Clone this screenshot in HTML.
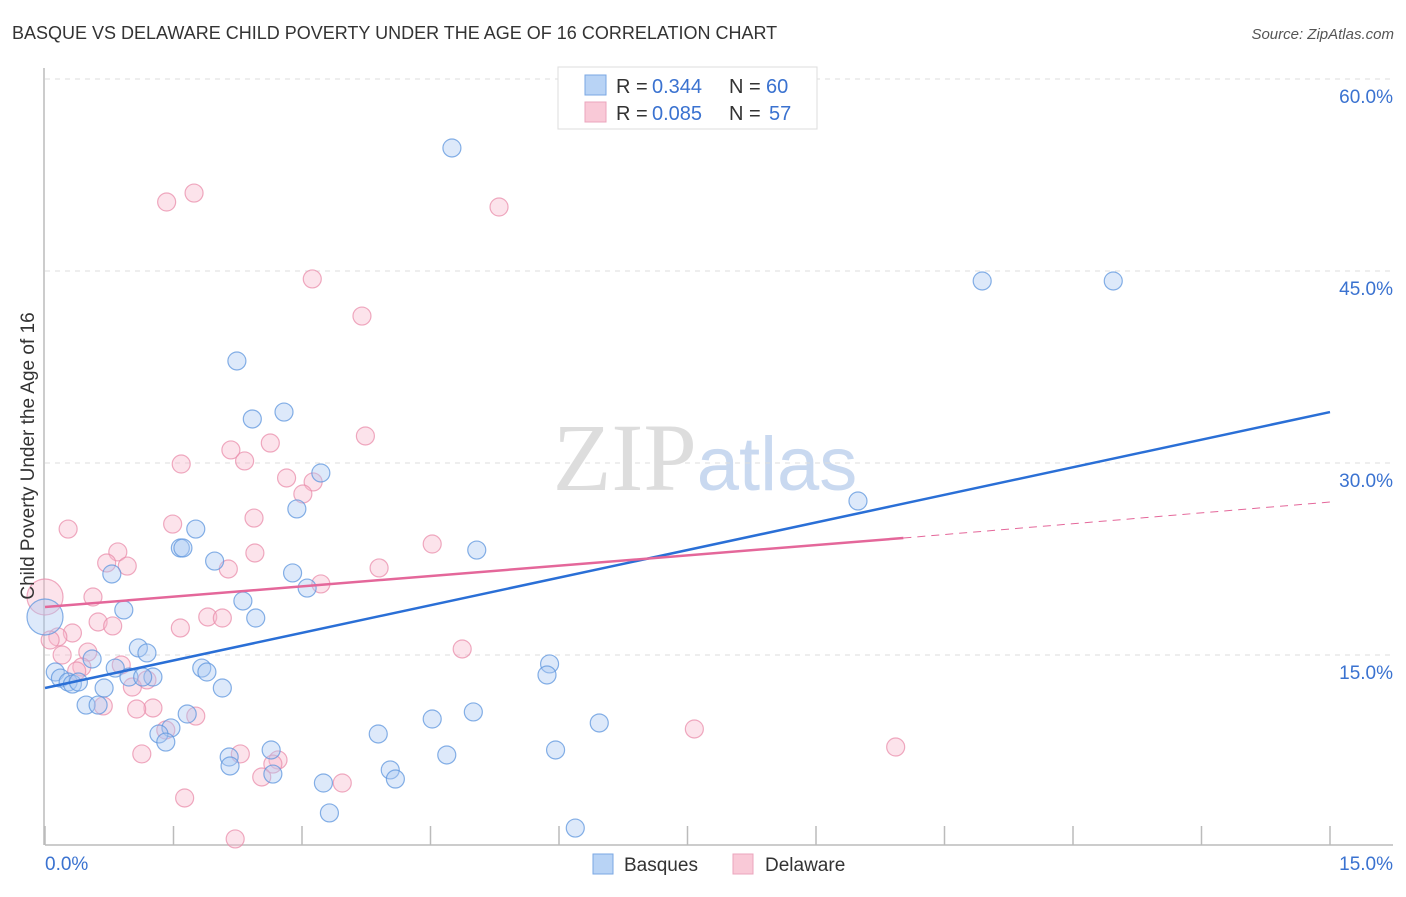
<!DOCTYPE html>
<html><head><meta charset="utf-8"><style>
body{margin:0;background:#fff;font-family:"Liberation Sans",sans-serif}
</style></head><body>
<svg id="chart" width="1406" height="892" xmlns="http://www.w3.org/2000/svg" font-family="Liberation Sans, sans-serif">
<text x="12" y="39" font-size="18" fill="#333">BASQUE VS DELAWARE CHILD POVERTY UNDER THE AGE OF 16 CORRELATION CHART</text>
<text x="1394" y="39" font-size="15" fill="#555" text-anchor="end" font-style="italic">Source: ZipAtlas.com</text>
<text x="705" y="490" font-size="96" text-anchor="middle" fill="#ddd" font-family="Liberation Serif, serif">ZIP<tspan fill="#c9d9f0" font-family="Liberation Sans, sans-serif" font-size="76">atlas</tspan></text>
<g id="grid"></g><g id="marks"></g><g id="lines"></g>
<text transform="translate(34,456) rotate(-90)" font-size="19" fill="#333" text-anchor="middle">Child Poverty Under the Age of 16</text>
<g>
<rect x="558" y="67" width="259" height="62" fill="#fff" stroke="#ddd"/>
<rect x="585" y="75" width="21" height="20" fill="#b8d3f5" stroke="#7aa7e3"/>
<rect x="585" y="102" width="21" height="20" fill="#f9c9d7" stroke="#eba5bc"/>
<text x="616" y="93" font-size="20" fill="#333">R =</text>
<text x="652" y="93" font-size="20" fill="#3a72d0">0.344</text>
<text x="729" y="93" font-size="20" fill="#333">N =</text>
<text x="766" y="93" font-size="20" fill="#3a72d0">60</text>
<text x="616" y="120" font-size="20" fill="#333">R =</text>
<text x="652" y="120" font-size="20" fill="#3a72d0">0.085</text>
<text x="729" y="120" font-size="20" fill="#333">N =</text>
<text x="769" y="120" font-size="20" fill="#3a72d0">57</text>
</g>
<g>
<rect x="593" y="854" width="20" height="20" fill="#b8d3f5" stroke="#7aa7e3"/>
<text x="624" y="871" font-size="19" fill="#333">Basques</text>
<rect x="733" y="854" width="20" height="20" fill="#f9c9d7" stroke="#eba5bc"/>
<text x="765" y="871" font-size="19" fill="#333">Delaware</text>
</g>
</svg>
<script>
const blueX=[4.75,10.94,12.47,2.24,2.42,2.79,3.22,2.94,9.49,1.76,1.58,1.61,5.04,1.98,0.78,2.89,3.06,2.31,0.92,2.46,1.09,1.19,0.55,5.89,5.86,0.12,0.18,0.27,0.32,0.39,0.82,0.98,1.26,1.14,1.83,1.89,0.69,2.07,0.48,0.62,4.52,5.00,6.47,1.66,1.47,1.33,1.41,3.89,5.96,2.64,4.69,2.15,2.16,2.66,4.03,4.09,3.25,3.32,6.19,0];
const blueY=[54.61,44.22,44.22,37.97,33.44,33.98,29.22,26.41,27.03,24.84,23.36,23.36,23.20,22.34,21.33,21.41,20.23,19.22,18.52,17.89,15.55,15.16,14.69,14.30,13.44,13.67,13.20,12.89,12.73,12.89,13.98,13.28,13.28,13.28,13.98,13.67,12.42,12.42,11.09,11.09,10.00,10.55,9.69,10.39,9.30,8.83,8.20,8.83,7.58,7.58,7.19,7.03,6.33,5.70,6.02,5.31,5.00,2.66,1.48,17.97];
const pinkX=[1.42,1.74,5.30,3.12,3.70,3.74,2.63,1.59,2.17,2.33,2.82,3.13,3.01,1.49,2.44,0.27,4.52,2.45,0.85,0.72,0.96,2.14,3.90,3.22,0.56,0.62,0.79,1.90,2.07,1.58,0.32,0.15,0.06,4.87,0.50,0.20,0.43,0.37,0.89,1.19,1.02,0.68,1.26,1.07,1.76,1.41,7.58,9.93,1.13,2.28,2.72,2.66,2.53,3.47,1.63,2.22,0];
const pinkY=[50.39,51.09,50.00,44.38,41.48,32.11,31.56,29.92,31.02,30.16,28.83,28.52,27.58,25.23,25.70,24.84,23.67,22.97,23.05,22.19,21.95,21.72,21.80,20.55,19.53,17.58,17.27,17.97,17.89,17.11,16.72,16.41,16.17,15.47,15.23,15.00,14.06,13.75,14.22,13.05,12.50,11.02,10.86,10.78,10.23,9.14,9.22,7.81,7.27,7.27,6.80,6.48,5.47,5.00,3.83,0.63,19.53];
const blueTrend=[[0,12.42],[15,33.98]];
const pinkTrend=[[0,18.75],[10.02,24.14],[15,26.95]];
const yTicks=[15,30,45,60];
const yTickLabels=["15.0%","30.0%","45.0%","60.0%"];
const xTicks=[0,1.5,3,4.5,6,7.5,9,10.5,12,13.5,15];
const NS="http://www.w3.org/2000/svg";
const sx=v=>45+v*1285/15, sy=v=>847-v*192/15;
function mk(tag,attrs,parent){const e=document.createElementNS(NS,tag);for(const k in attrs)e.setAttribute(k,attrs[k]);parent.appendChild(e);return e;}
const grid=document.getElementById('grid'),marks=document.getElementById('marks'),lines=document.getElementById('lines');
yTicks.forEach((t,i)=>{const l=mk('line',{x1:45,x2:1393,y1:sy(t),y2:sy(t),stroke:'#ddd','stroke-dasharray':'5,5'},grid);

const tx=mk('text',{x:1393,y:sy(t)+24,'font-size':19,fill:'#3a72d0','text-anchor':'end'},grid);tx.textContent=yTickLabels[i];
});
const ax=mk('line',{x1:45,x2:1393,y1:845,y2:845,stroke:'#bbb','stroke-width':1.5},grid);

const ay=mk('line',{x1:44,x2:44,y1:68,y2:845,stroke:'#bbb','stroke-width':1.5},grid);

xTicks.forEach(t=>{const l=mk('line',{x1:sx(t),x2:sx(t),y1:826,y2:845,stroke:'#bbb','stroke-width':1.5},grid);
});
const x0=mk('text',{x:45,y:870,'font-size':19,fill:'#3a72d0'},grid);x0.textContent='0.0%';

const x1=mk('text',{x:1393,y:870,'font-size':19,fill:'#3a72d0','text-anchor':'end'},grid);x1.textContent='15.0%';

function pts(X,Y,fill,stroke,name){X.forEach((x,i)=>{const big=(x===0);
const c=mk('circle',{cx:sx(x),cy:sy(Y[i]),r:big?18:9,fill:fill,'fill-opacity':0.4,stroke:stroke,'stroke-opacity':0.75,'stroke-width':1.2},marks);
});}
pts(pinkX,pinkY,'#f7b9cc','#ea8eab','delaware-point');
pts(blueX,blueY,'#a9c9f2','#5d95de','basques-point');
const bl=mk('line',{x1:sx(blueTrend[0][0]),y1:sy(blueTrend[0][1]),x2:sx(blueTrend[1][0]),y2:sy(blueTrend[1][1]),stroke:'#2a6fd6','stroke-width':2.5},lines);

const pl=mk('line',{x1:sx(pinkTrend[0][0]),y1:sy(pinkTrend[0][1]),x2:sx(pinkTrend[1][0]),y2:sy(pinkTrend[1][1]),stroke:'#e4679a','stroke-width':2.5},lines);

const pd=mk('line',{x1:sx(pinkTrend[1][0]),y1:sy(pinkTrend[1][1]),x2:sx(pinkTrend[2][0]),y2:sy(pinkTrend[2][1]),stroke:'#e4679a','stroke-width':1,'stroke-dasharray':'8,6'},lines);

</script>
</body></html>
